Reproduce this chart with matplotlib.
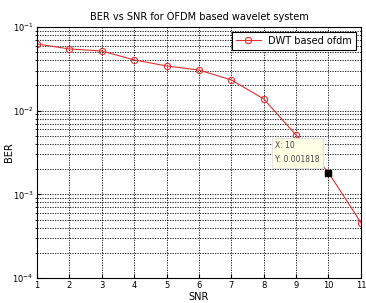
import numpy as np
import matplotlib.pyplot as plt
from matplotlib.ticker import LogLocator, NullFormatter

# Datos
snr = [1, 2, 3, 4, 5, 6, 7, 8, 9, 10, 11]
ber = [0.0626, 0.0546, 0.0516, 0.0404, 0.0342, 0.0306, 0.0233, 0.0138, 0.0051, 0.001818, 0.00046]
tip_x = 10
tip_y = 0.001818

fig = plt.figure(figsize=(3.66, 3.03), dpi=100)
ax = fig.add_axes([0.101, 0.0825, 0.885, 0.8285])

ax.semilogy(snr, ber, color='#e03030', linewidth=0.8, marker='o', markersize=4.5,
            markerfacecolor='none', markeredgecolor='#e03030', markeredgewidth=0.8,
            label='DWT based ofdm')

# marcador del datatip
ax.plot([tip_x], [tip_y], 's', color='black', markersize=4, zorder=5)
ax.text(tip_x - 1.65, tip_y * 1.72, 'X: 10\nY: 0.001818', fontsize=5.5, color='#444444',
        va='center', ha='left', linespacing=1.7,
        bbox=dict(boxstyle='square,pad=0.45', facecolor='#ffffe6', edgecolor='#dddddd', linewidth=0.6),
        zorder=6)

ax.set_xlim(1, 11)
ax.set_ylim(1e-4, 1e-1)
ax.set_xticks(snr)
ax.yaxis.set_major_locator(LogLocator(base=10))
ax.yaxis.set_minor_locator(LogLocator(base=10, subs=np.arange(2, 10)))
ax.yaxis.set_minor_formatter(NullFormatter())

ax.grid(True, which='both', linestyle=(0, (1.5, 1.5)), color='black', linewidth=0.6)
ax.tick_params(labelsize=6, direction='in', length=3, pad=2.5)
ax.tick_params(which='minor', length=1.5)

ax.set_title('BER vs SNR for OFDM based wavelet system', fontsize=7, pad=5)
ax.set_xlabel('SNR', fontsize=7, labelpad=1)
ax.set_ylabel('BER', fontsize=7)
ax.yaxis.set_label_coords(-0.072, 0.5)

leg = ax.legend(loc='upper right', fontsize=7, fancybox=False, framealpha=1,
                edgecolor='black', borderaxespad=0.5, handlelength=2.5)
leg.get_frame().set_linewidth(0.8)

plt.savefig('out.png', dpi=100)
